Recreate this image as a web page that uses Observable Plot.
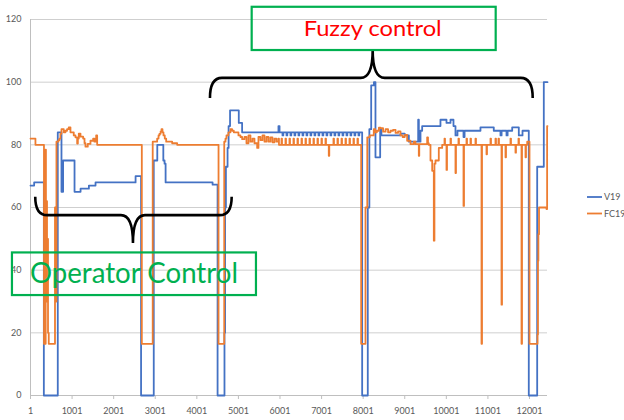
<!DOCTYPE html>
<html>
<head>
<meta charset="utf-8">
<script src="https://cdn.jsdelivr.net/npm/d3@7"></script>
<script src="https://cdn.jsdelivr.net/npm/@observablehq/plot@0.6"></script>
<style>
  html, body { margin: 0; padding: 0; background: #fff; }
  g[aria-label="x-axis"] .tick line, g[aria-label="x-axis tick"] path { stroke: #bfbfbf; }
</style>
</head>
<body>
<div id="chart"></div>
<script>
// ---- data ----
const xTicks = [1, 1001, 2001, 3001, 4001, 5001, 6001, 7001, 8001, 9001, 10001, 11001, 12001];
const yTicks = [0, 20, 40, 60, 80, 100, 120];
const seriesNames = ["V19", "FC19"];
const lastIndex = 12434;

// [sample index, value] — value holds from that index on (step-after)
const v19 = [[1,67],[89,68],[322,0],[657,84],[746,65],[785,75],[1060,65],[1205,66],[1405,67],[1565,68],[2528,70],[2660,0],
[2965,75],[3050,80],[3195,75],[3225,74],[3250,68],[4380,67.3],[4500,0],[4666,20],[4680,60],[4700,73],[4740,79],[4765,86],[4800,91],[5010,87],[5090,84],
[5964,86],[5990,84],
[6061,83],[6081,84],[6157,83],[6177,84],[6253,83],[6273,84],[6349,83],[6369,84],[6445,83],[6465,84],[6542,83],[6562,84],[6638,83],[6658,84],[6734,83],[6754,84],[6830,83],[6850,84],[6926,83],[6946,84],[7023,83],[7043,84],[7119,83],[7139,84],[7215,83],[7235,84],[7311,83],[7331,84],[7407,83],[7427,84],[7504,83],[7524,84],[7600,83],[7620,84],[7696,83],[7716,84],[7792,83],[7812,84],[7888,83],[7908,84],
[7977,0],[8112,60],[8150,85],[8194,99],[8260,100],[8297,76],[8410,85],[8440,83],[8900,83.6],[9000,83],[9100,81],[9324,88],[9340,81],[9380,84.5],[9420,86],
[9860,88],[10005,87],[10101,88],[10173,86],[10221,83],[10269,84.5],[10414,82.5],[10440,84.5],[10822,85.6],[11142,84.5],[11303,83],[11330,84.5],[11448,83],[11475,84.5],[11585,85.6],[11744,83],[11833,84.5],
[11984,0],[12186,73],[12345,100],[12434,100]];

const fc19 = [[1,82],[120,80],[325,16.5],[366,78.5],[372,40],[392,62],[398,30],[416,50],[422,20],[440,16.5],[590,60],[600,30],[625,81],[673,81.5],[697,82],[720,83.5],[746,85],[801,84],[842,84.5],[880,85],[921,85.6],[962,84],[1041,83],[1082,82.4],[1123,80.4],[1140,82],[1162,83.6],[1203,82.6],[1267,82],[1300,80.5],[1323,79.4],[1378,80.3],[1443,81.3],[1508,82],[1539,81],[1580,83],[1604,80],
[2678,16.5],[2940,81],[3047,82],[3080,83],[3102,83.5],[3130,84.3],[3151,85],[3175,84],[3199,83],[3230,82],[3264,81],[3408,80.5],[3528,80],
[4523,16.5],[4660,81],[4690,82],[4714,83],[4760,84],[4810,85],[4850,84.5],[4890,84],[5002,83],[5050,82.5],[5091,81.8],[5147,82.5],[5195,80.5],[5243,83],[5291,81],[5339,82],[5387,80.5],[5452,79],[5483,82.5],[5532,81.5],[5580,83],[5628,81],[5676,82.5],[5724,81],[5772,82.4],[5820,80.8],[5868,82],[5916,81],[5964,82],[5976,80],
[6037,82],[6049,80],[6133,82],[6145,80],[6229,82],[6241,80],[6325,82],[6337,80],[6421,82],[6433,80],[6518,82],[6530,80],[6614,82],[6626,80],[6710,82],[6722,80],[6806,82],[6818,80],[6902,82],[6914,80],[6998,82],[7010,80],[7095,82],[7107,80],[7174,76.5],[7186,80],[7287,82],[7299,80],[7383,82],[7395,80],[7480,82],[7492,80],[7576,82],[7588,80],[7672,82],[7684,80],[7768,82],[7780,80],[7864,82],[7876,80],
[7953,16.5],[8057,60],[8100,82.4],[8160,83],[8256,85],[8290,84],[8330,84.5],[8380,85.5],[8417,85.3],[8480,84.2],[8540,85],[8600,84],[8658,84.5],[8720,84.8],[8780,83.8],[8840,84.3],[8899,83],[8950,82.5],[9000,83.2],[9059,81.3],[9139,80.2],[9218,81],[9259,80.2],[9339,76.5],[9350,80.2],[9540,82.4],[9560,80.5],[9579,80],[9620,75],[9661,71.7],[9700,49.4],[9715,74],[9740,75],[9820,79],[9901,80],
[9957,82],[9969,80],[10005,72],[10017,80],[10101,82],[10113,80],[10221,71],[10233,80],[10293,82],[10305,80],[10414,60.5],[10426,80],[10486,82],[10498,80],[10582,82],[10594,80],[10702,82],[10714,80],[10847,16.5],[10859,80],[10967,77],[10979,80],[11063,82],[11075,80],[11183,82],[11195,80],[11255,82],[11267,80],[11328,29],[11340,80],[11424,76],[11436,80],[11544,82],[11556,80],[11664,77.5],[11676,80],[11736,82],[11748,80],[11809,16.5],[11821,80],[11905,76],[11917,80],[11946,81],
[12001,16.5],[12194,19.5],[12205,43],[12215,51.5],[12230,60],[12410,59.5],[12425,86],[12434,86]];

// annotation texts and their anchors in data units
const annotationTexts = ["Fuzzy control", "Operator Control"];
const fuzzyAnchor = {x1: 4329, x2: 12090, xm: 8242, yEnd: 94.8, yBar: 101.2, yTip: 110.1};
const operatorAnchor = {x1: 127, x2: 4851, xm: 2477, yEnd: 63.3, yBar: 57.4, yTip: 48.5};

// ---- chart ----
const colors = ["#4472C4", "#ED7D31"];
const rows = (arr, s) => arr.map(([i, v]) => ({i, v, s}));

const plot = Plot.plot({
  width: 624,
  height: 420,
  marginLeft: 30,
  marginRight: 77,
  marginTop: 19,
  marginBottom: 25,
  style: {fontFamily: "Lato, sans-serif", fontSize: "9px", color: "#595959", background: "#fff", overflow: "visible"},
  x: {domain: [1, lastIndex], ticks: xTicks, tickFormat: d => String(d), tickSize: 4, tickPadding: 8, label: null},
  y: {domain: [0, 120], ticks: yTicks, tickSize: 0, tickPadding: 9, label: null},
  marks: [
    Plot.ruleY(yTicks.filter(d => d > 0), {stroke: "#cfcfcf", strokeWidth: 1}),
    Plot.ruleY([0], {stroke: "#bfbfbf", strokeWidth: 1}),
    Plot.ruleX([1], {stroke: "#bfbfbf", strokeWidth: 1}),
    Plot.line(rows(v19, seriesNames[0]), {x: "i", y: "v", stroke: colors[0], strokeWidth: 1.8, curve: "step-after"}),
    Plot.line(rows(fc19, seriesNames[1]), {x: "i", y: "v", stroke: colors[1], strokeWidth: 1.8, curve: "step-after"})
  ]
});

document.getElementById("chart").appendChild(plot);

const sx = plot.scale("x"), sy = plot.scale("y");
const X = v => sx.apply(v), Y = v => sy.apply(v);
const svg = d3.select(plot);

function brace(a) {
  const x1 = X(a.x1), x2 = X(a.x2), xm = X(a.xm);
  const ye = Y(a.yEnd), yb = Y(a.yBar), yt = Y(a.yTip);
  const r = 12;
  return `M${x1},${ye} Q${x1},${yb} ${x1 + r},${yb} L${xm - r},${yb} Q${xm},${yb} ${xm},${yt} Q${xm},${yb} ${xm + r},${yb} L${x2 - r},${yb} Q${x2},${yb} ${x2},${ye}`;
}

const ann = svg.append("g");
// Fuzzy control
ann.append("path").attr("d", brace(fuzzyAnchor)).attr("fill", "none").attr("stroke", "#000").attr("stroke-width", 2.6);
ann.append("rect")
  .attr("x", X(5332)).attr("y", Y(123.9))
  .attr("width", X(11200) - X(5332)).attr("height", Y(110.1) - Y(123.9))
  .attr("fill", "none").attr("stroke", "#00B050").attr("stroke-width", 2.2);
ann.append("text").text(annotationTexts[0])
  .attr("x", X(fuzzyAnchor.xm)).attr("y", Y(114.6))
  .attr("text-anchor", "middle").attr("fill", "#FF0000")
  .attr("font-family", "Lato, sans-serif").attr("font-size", 21)
  .attr("textLength", 138).attr("lengthAdjust", "spacingAndGlyphs");

// Operator Control
ann.append("path").attr("d", brace(operatorAnchor)).attr("fill", "none").attr("stroke", "#000").attr("stroke-width", 2.6);
ann.append("rect")
  .attr("x", X(-433)).attr("y", Y(45.5))
  .attr("width", X(5435) - X(-433)).attr("height", Y(31.9) - Y(45.5))
  .attr("fill", "none").attr("stroke", "#00B050").attr("stroke-width", 2.2);
ann.append("text").text(annotationTexts[1])
  .attr("x", X(2501)).attr("y", Y(35.7))
  .attr("text-anchor", "middle").attr("fill", "#00B050")
  .attr("font-family", "Lato, sans-serif").attr("font-size", 28)
  .attr("textLength", 208).attr("lengthAdjust", "spacingAndGlyphs");

// legend
const leg = svg.append("g").attr("font-family", "Lato, sans-serif").attr("font-size", 9).attr("fill", "#595959").attr("text-anchor", "start");
seriesNames.forEach((name, k) => {
  const y = 197 + k * 16.5;
  leg.append("line").attr("x1", 587).attr("x2", 602).attr("y1", y).attr("y2", y)
    .attr("stroke", colors[k]).attr("stroke-width", 1.8);
  leg.append("text").attr("x", 604).attr("y", y + 3).attr("text-anchor", "start").text(name);
});
</script>
</body>
</html>
